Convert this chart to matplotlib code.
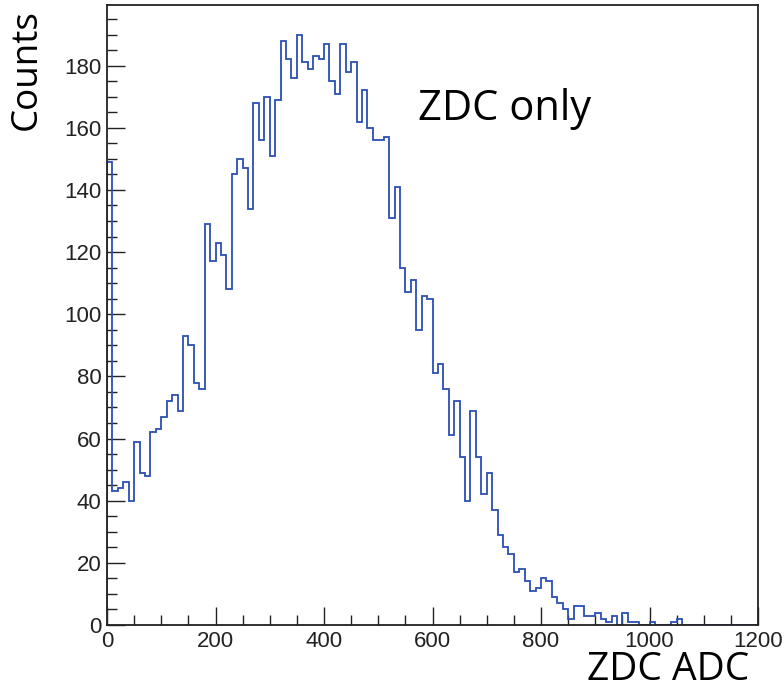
import numpy as np
import matplotlib
matplotlib.use("Agg")
import matplotlib.pyplot as plt
from matplotlib.ticker import MultipleLocator

# ---- data ----
bin_width = 10
x_range = (0, 1200)
counts = [
    149, 43, 44, 46, 40, 59, 49, 48, 62, 63,      # 0-99
    67, 72, 74, 69, 93, 90, 78, 76, 129, 117,     # 100-199
    123, 119, 108, 145, 150, 147, 134, 168, 156, 170,  # 200-299
    151, 169, 188, 182, 176, 190, 181, 179, 183, 182,  # 300-399
    187, 175, 171, 187, 178, 181, 162, 172, 160, 156,  # 400-499
    156, 157, 131, 141, 115, 107, 111, 95, 106, 105,   # 500-599
    81, 84, 76, 61, 72, 54, 40, 69, 54, 42,            # 600-699
    49, 37, 29, 25, 23, 17, 18, 14, 11, 12,            # 700-799
    15, 14, 9, 7, 5, 2, 6, 6, 3, 3,                    # 800-899
    4, 2, 1, 3, 0, 4, 1, 1, 0, 0,                      # 900-999
    1, 0, 0, 0, 1, 2, 0, 0, 0, 0,                      # 1000-1099
    0, 0, 0, 0, 0, 0, 0, 0, 0, 0,                      # 1100-1199
]
x_title = "ZDC ADC"
y_title = "Counts"
annotation = "ZDC only"

edges = np.arange(x_range[0], x_range[0] + bin_width * (len(counts) + 1), bin_width)

# ---- figure ----
W, H = 784, 698
fig = plt.figure(figsize=(W / 100, H / 100), dpi=100)
ax_l, ax_r, ax_b, ax_t = 107, 758, 625, 5
ax = fig.add_axes([ax_l / W, 1 - ax_b / H, (ax_r - ax_l) / W, (ax_b - ax_t) / H])

ax.stairs(counts, edges, color="#2b4fb3", linewidth=1.3, baseline=0, zorder=2)

ax.set_xlim(*x_range)
ax.set_ylim(0, 1.05 * max(counts))

for s in ax.spines.values():
    s.set_linewidth(1.3)
    s.set_color("#222222")
    s.set_zorder(3)

ax.xaxis.set_major_locator(MultipleLocator(200))
ax.xaxis.set_minor_locator(MultipleLocator(50))
ax.yaxis.set_major_locator(MultipleLocator(20))
ax.yaxis.set_minor_locator(MultipleLocator(5))

ax.tick_params(which="both", direction="in", top=False, right=False,
               width=1.0, color="#222222")
ax.tick_params(which="major", length=13)
ax.tick_params(which="minor", length=7)
ax.tick_params(axis="x", pad=4)
ax.tick_params(axis="y", pad=4)
for lab in ax.get_xticklabels() + ax.get_yticklabels():
    lab.set_fontfamily(["Liberation Sans", "DejaVu Sans"])
    lab.set_fontsize(16)
    lab.set_color("#222222")

ax.set_xlabel(x_title, family=["Open Sans", "DejaVu Sans"], size=28)
ax.xaxis.set_label_coords((749 - ax_l) / (ax_r - ax_l), (ax_b - 651) / (ax_b - ax_t))
ax.xaxis.label.set_horizontalalignment("right")
ax.xaxis.label.set_verticalalignment("top")

ax.set_ylabel(y_title, family=["Open Sans", "DejaVu Sans"], size=26.5)
ax.yaxis.set_label_coords((27 - ax_l) / (ax_r - ax_l), (ax_b - 9) / (ax_b - ax_t))
ax.yaxis.label.set_rotation_mode("anchor")
ax.yaxis.label.set_horizontalalignment("right")
ax.yaxis.label.set_verticalalignment("center")

ax.text((418 - ax_l) / (ax_r - ax_l), (ax_b - 120) / (ax_b - ax_t), annotation,
        transform=ax.transAxes, ha="left", va="baseline",
        fontfamily=["Open Sans", "DejaVu Sans"], fontsize=30)

fig.savefig("out.png", dpi=100)
